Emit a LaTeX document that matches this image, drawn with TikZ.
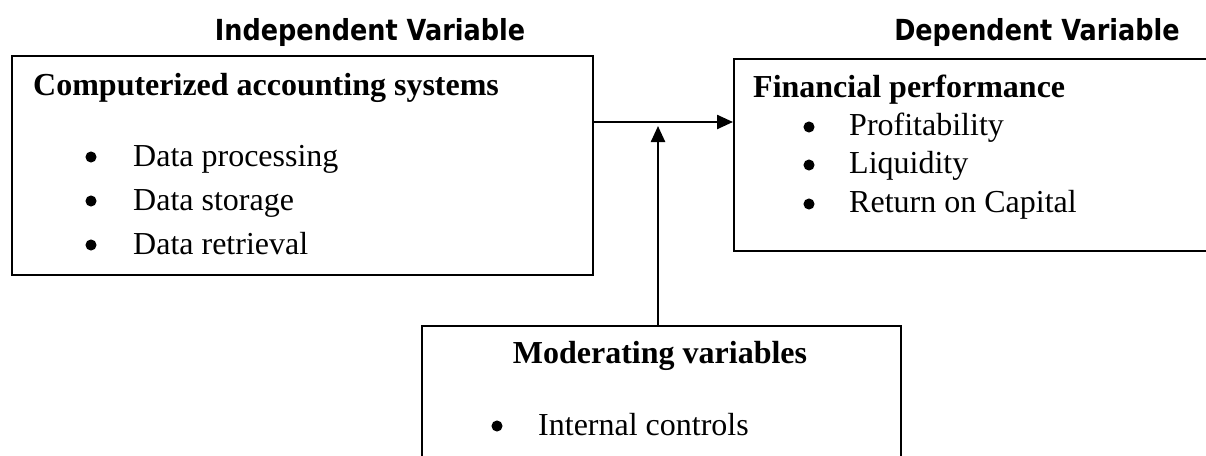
\documentclass[tikz,border=0pt]{standalone}
\usepackage{fontspec}
\setmainfont{Liberation Serif}
\newfontfamily\headfont[FakeStretch=0.88]{DejaVu Sans}
\usetikzlibrary{arrows.meta}
\begin{document}
\begin{tikzpicture}[x=1pt,y=-1pt,
  box/.style={draw=black, line width=2pt, rectangle, inner sep=0pt, anchor=north west},
  txt/.style={anchor=base west, inner sep=0pt, font=\fontsize{32}{38}\selectfont},
  ttl/.style={anchor=base west, inner sep=0pt, font=\fontsize{32}{38}\selectfont\bfseries},
  head/.style={anchor=base, inner sep=0pt, font=\headfont\bfseries\fontsize{29}{34}\selectfont},
  bul/.style={circle, fill=black, draw=black, line width=1pt, inner sep=0pt, minimum size=10pt},
  arr/.style={line width=2.4pt, -{Triangle[length=16pt,width=14pt]}}
]
\useasboundingbox (0,0) rectangle (1206,455);
\clip (0,0) rectangle (1206,455);

% headings
\node[head] (hind) at (370,40) {Independent Variable};
\node[head] (hdep) at (1037,40) {Dependent Variable};

% boxes
\node[box, minimum width=581pt, minimum height=219pt] (cas) at (11,55) {};
\node[box, minimum width=490pt, minimum height=192pt] (fp) at (733,58) {};
\node[box, minimum width=479pt, minimum height=160pt] (mv) at (421,325) {};

% left box text
\node[ttl] (t1) at (33,95) {Computerized accounting systems};
\node[bul] (b1) at (91,157) {};
\node[bul] (b2) at (91,201) {};
\node[bul] (b3) at (91,245) {};
\node[txt] (l1) at (133,166) {Data processing};
\node[txt] (l2) at (133,210) {Data storage};
\node[txt] (l3) at (133,254) {Data retrieval};

% right box text
\node[ttl] (t2) at (753,97) {Financial performance};
\node[bul] (b4) at (809,127) {};
\node[bul] (b5) at (809,165) {};
\node[bul] (b6) at (809,204) {};
\node[txt] (r1) at (849,135) {Profitability};
\node[txt] (r2) at (849,173) {Liquidity};
\node[txt] (r3) at (849,212) {Return on Capital};

% bottom box text
\node[ttl, anchor=base] (t3) at (660,363) {Moderating variables};
\node[bul] (b7) at (497,426) {};
\node[txt] (m1) at (538,435) {Internal controls};

% connectors
\coordinate (j) at (658,122);
\coordinate (jt) at (658,126);
\draw[arr] (j -| cas.east) -- (j -| fp.west);
\draw[arr] (mv.north -| jt) -- (jt);
\end{tikzpicture}
\end{document}
